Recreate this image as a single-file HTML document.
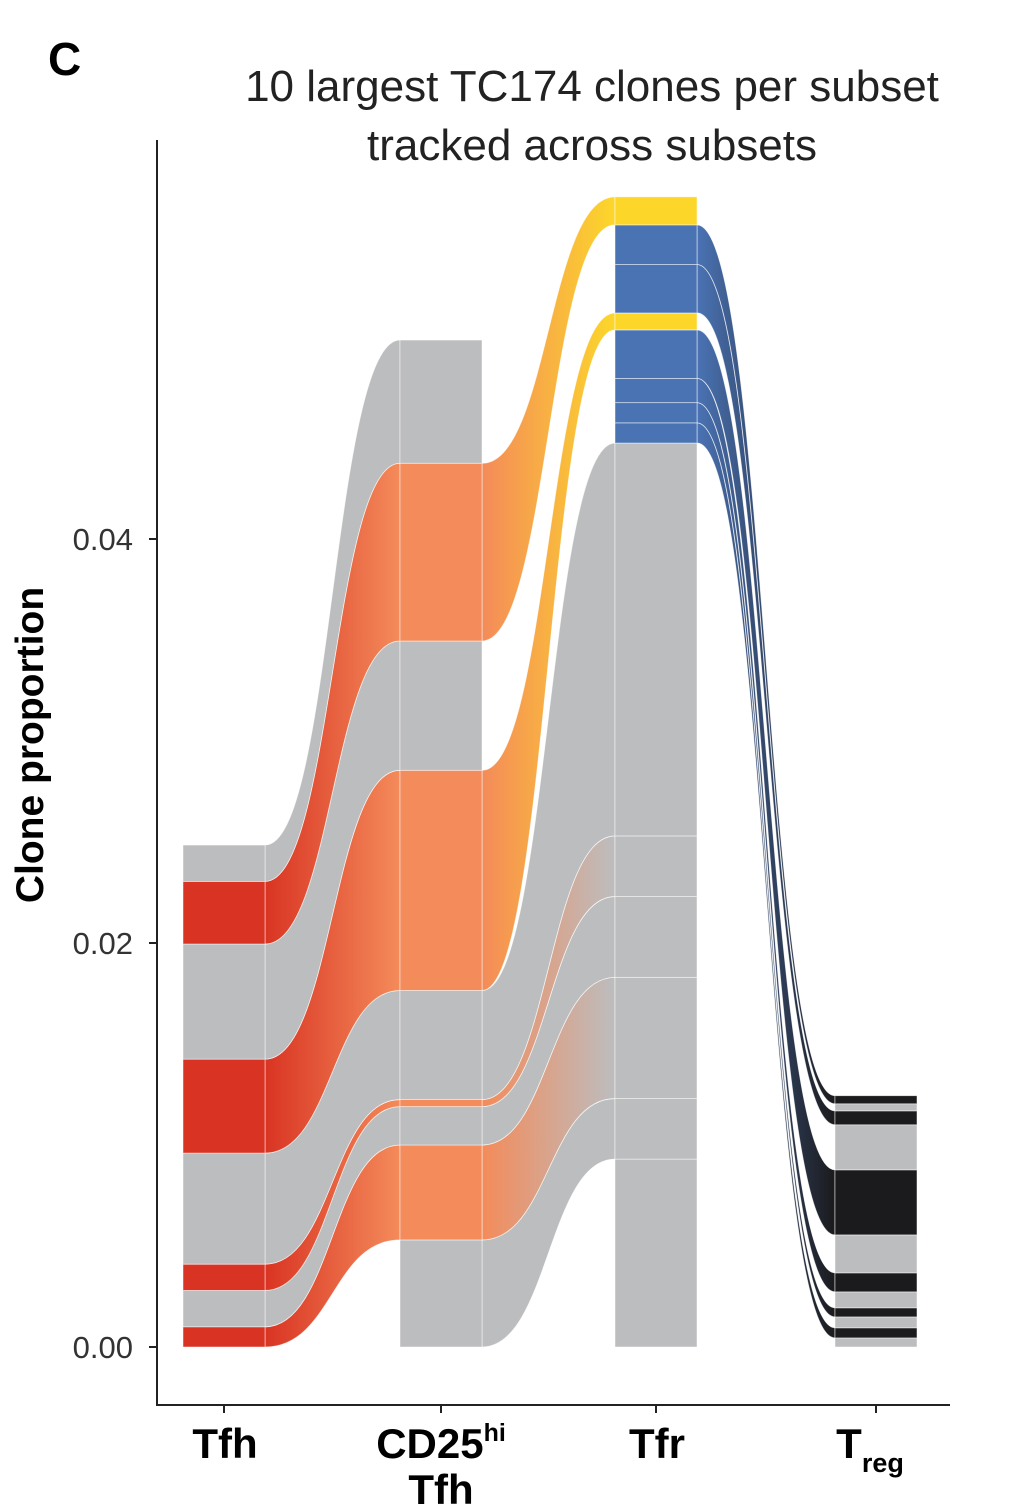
<!DOCTYPE html>
<html><head><meta charset="utf-8"><style>
html,body{margin:0;padding:0;background:#fff;}
svg{display:block;font-family:"Liberation Sans",Arial,sans-serif;}
</style></head><body>
<svg id="chart" width="1027" height="1511" viewBox="0 0 1027 1511">
<defs id="defs"></defs>
<text x="48" y="75" font-size="46" font-weight="bold">C</text>
<text x="592" y="101" font-size="44" text-anchor="middle" fill="#222">10 largest TC174 clones per subset</text>
<text x="592" y="160" font-size="44" text-anchor="middle" fill="#222">tracked across subsets</text>
<g id="flows"></g>
<g id="bars"></g>
<g id="axes"></g>
</svg>
<script>
// subsets
const subsets = ["Tfh", "CD25hi Tfh", "Tfr", "Treg"];
// clone values per subset (units of 0.001 clone proportion), stacked bottom-to-top
const tfhVals  = [0, 0,  1.0, 1.8, 1.3, 5.5,   0,0,0,0,0,0,0,0,0,0,   4.65, 5.7,   0,0,0,0,0,   3.1, 1.8];
const cd25Vals = [0, 5.3, 4.7, 1.9, 0.35, 5.4,  0,0,0,0,0,0,0,0,0,0,  10.9, 6.4,   0,0,0,0,0,   8.8, 6.1];
const tfrVals  = [9.3, 3.0, 6.0, 4.0, 3.0, 19.45, 0,1.0,0,1.0,0,1.2,0,2.4,0,0, 0.84, 0,  0,0,2.4,0,1.96, 1.39, 0];
const tregVals = [0, 0, 0, 0, 0, 0,  0.45,0.5,0.54,0.45,0.79,0.94,1.88,3.22,0,0, 0, 0,  0,2.23,0.69,0.35,0.40, 0, 0];
// colour keys per subset
const tfhCol  = ["g","g","r","g","r","g", "g","g","g","g","g","g","g","g","g","g", "r","g", "g","g","g","g","g", "r","g"];
const cd25Col = ["g","g","o","g","o","g", "g","g","g","g","g","g","g","g","g","g", "o","g", "g","g","g","g","g", "o","g"];
const tfrCol  = ["g","g","g","g","g","g", "g","b","g","b","g","b","g","b","g","g", "y","g", "g","g","b","g","b", "y","g"];
const tregCol = ["g","g","g","g","g","g", "g","k","g","k","g","k","g","k","g","g", "g","g", "g","g","k","g","k", "g","g"];
const yTicks = [0, 0.02, 0.04];
const yTickLabels = ["0.00", "0.02", "0.04"];

const palette = {g:"#bcbdbf", r:"#d93423", o:"#f48b5a", y:"#fcd72a", b:"#4a73b4", k:"#1b1a1c"};
const cols = [tfhVals, cd25Vals, tfrVals, tregVals];
const colCols = [tfhCol, cd25Col, tfrCol, tregCol];
const barLeft = [183, 400, 615, 835];
const barW = 82;
const y0 = 1347, pxPerUnit = 20200;
const yScale = v => y0 - v * pxPerUnit;
const NS = "http://www.w3.org/2000/svg";
const flowsG = document.getElementById('flows'), barsG = document.getElementById('bars'), defs = document.getElementById('defs'), axesG = document.getElementById('axes');

const pos = cols.map(vals => { let acc = 0; return vals.map(v => { const b = acc; acc += v / 1000; return [b, acc]; }); });

let gid = 0;
for (let s = 0; s < 3; s++) {
  const xa = barLeft[s] + barW, xb = barLeft[s + 1], xm = (xa + xb) / 2;
  for (let i = 0; i < tfhVals.length; i++) {
    if (cols[s][i] <= 0 || cols[s + 1][i] <= 0) continue;
    const [a0, a1] = pos[s][i], [b0, b1] = pos[s + 1][i];
    const gr = document.createElementNS(NS, 'linearGradient');
    const id = 'fg' + (gid++);
    gr.setAttribute('id', id); gr.setAttribute('gradientUnits', 'userSpaceOnUse');
    gr.setAttribute('x1', xa); gr.setAttribute('x2', xb); gr.setAttribute('y1', 0); gr.setAttribute('y2', 0);
    [[0, palette[colCols[s][i]]], [1, palette[colCols[s + 1][i]]]].forEach(([o, c]) => {
      const st = document.createElementNS(NS, 'stop'); st.setAttribute('offset', o); st.setAttribute('stop-color', c); gr.appendChild(st);
    });
    defs.appendChild(gr);
    const p = document.createElementNS(NS, 'path');
    const ya1 = yScale(a1), ya0 = yScale(a0), yb1 = yScale(b1), yb0 = yScale(b0);
    p.setAttribute('d', `M${xa},${ya1} C${xm},${ya1} ${xm},${yb1} ${xb},${yb1} L${xb},${yb0} C${xm},${yb0} ${xm},${ya0} ${xa},${ya0} Z`);
    p.setAttribute('fill', `url(#${id})`);
    p.setAttribute('stroke', '#fff'); p.setAttribute('stroke-width', '0.8'); p.setAttribute('stroke-opacity', '0.7');
    
    
    flowsG.appendChild(p);
  }
}
for (let s = 0; s < 4; s++) {
  for (let i = 0; i < tfhVals.length; i++) {
    if (cols[s][i] <= 0) continue;
    const [a0, a1] = pos[s][i];
    const r = document.createElementNS(NS, 'rect');
    r.setAttribute('x', barLeft[s]); r.setAttribute('width', barW);
    r.setAttribute('y', yScale(a1)); r.setAttribute('height', yScale(a0) - yScale(a1));
    r.setAttribute('fill', palette[colCols[s][i]]);
    r.setAttribute('stroke', '#fff'); r.setAttribute('stroke-width', '0.8'); r.setAttribute('stroke-opacity', '0.6');
    
    
    barsG.appendChild(r);
  }
}
function mk(tag, attrs, txt) { const e = document.createElementNS(NS, tag); for (const k in attrs) e.setAttribute(k, attrs[k]); if (txt !== undefined) e.textContent = txt; axesG.appendChild(e); return e; }
let e = mk('line', {x1:157, y1:140, x2:157, y2:1406, stroke:'#222', 'stroke-width':2});


e = mk('line', {x1:156, y1:1405, x2:950, y2:1405, stroke:'#222', 'stroke-width':2});


yTicks.forEach((t, k) => {
  const y = yScale(t);
  let tk = mk('line', {x1:149, y1:y, x2:157, y2:y, stroke:'#222', 'stroke-width':2});
  
  
  let lb = mk('text', {x:133, y:y + 11, 'font-size':31, 'text-anchor':'end', fill:'#333'}, yTickLabels[k]);
  
  
});
barLeft.forEach(x => {
  let tk = mk('line', {x1:x + barW / 2, y1:1405, x2:x + barW / 2, y2:1413, stroke:'#222', 'stroke-width':2});
  
  
});
e = mk('text', {x:0, y:0, 'font-size':39, 'font-weight':'bold', 'text-anchor':'middle', transform:'translate(43,745) rotate(-90)'}, 'Clone proportion');


e = mk('text', {x:225, y:1458, 'font-size':42, 'font-weight':'bold', 'text-anchor':'middle'}, 'Tfh');


e = mk('text', {x:441, y:1458, 'font-size':42, 'font-weight':'bold', 'text-anchor':'middle'});
e.innerHTML = 'CD25<tspan font-size="25" dy="-17">hi</tspan>';


e = mk('text', {x:441, y:1504, 'font-size':42, 'font-weight':'bold', 'text-anchor':'middle'}, 'Tfh');


e = mk('text', {x:657, y:1458, 'font-size':42, 'font-weight':'bold', 'text-anchor':'middle'}, 'Tfr');


e = mk('text', {x:870, y:1458, 'font-size':42, 'font-weight':'bold', 'text-anchor':'middle'});
e.innerHTML = 'T<tspan font-size="27" dy="14">reg</tspan>';


</script>
</body></html>
